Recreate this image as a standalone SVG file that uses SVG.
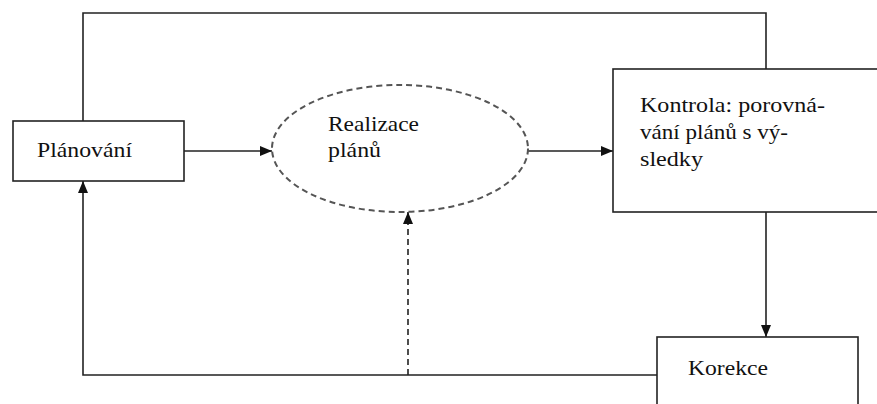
<svg xmlns="http://www.w3.org/2000/svg" width="877" height="404" viewBox="0 0 877 404">
  <style>
    .box { fill: #fff; stroke: #222; stroke-width: 1.6; }
    .line { fill: none; stroke: #222; stroke-width: 1.6; }
    .dash { fill: none; stroke: #222; stroke-width: 1.6; stroke-dasharray: 6 4; }
    .oval { fill: #fff; stroke: #555; stroke-width: 2; stroke-dasharray: 6 4; }
    text { font-family: 'Liberation Serif', 'DejaVu Serif', serif; font-size: 21.5px; fill: #111; }
  </style>
  <defs>
    <marker id="arrow" viewBox="0 0 12 10" refX="12" refY="5" markerWidth="12" markerHeight="10" markerUnits="userSpaceOnUse" orient="auto">
      <path d="M0,0 L12,5 L0,10 Z" fill="#111"/>
    </marker>
  </defs>

  <g id="connectors">
    <!-- feedback loop over the top -->
    <polyline class="line" points="83,121 83,13 766,13 766,69"/>
    <!-- planning -> realization -->
    <line class="line" x1="184" y1="151" x2="272" y2="151" marker-end="url(#arrow)"/>
    <!-- realization -> control -->
    <line class="line" x1="528" y1="151" x2="613" y2="151" marker-end="url(#arrow)"/>
    <!-- control -> correction -->
    <line class="line" x1="766" y1="212" x2="766" y2="337" marker-end="url(#arrow)"/>
    <!-- correction back to planning -->
    <polyline class="line" points="657,375 83,375 83,181" marker-end="url(#arrow)"/>
    <!-- correction -> realization (dashed) -->
    <line class="dash" x1="408" y1="375" x2="408" y2="212" marker-end="url(#arrow)"/>
  </g>

  <g id="planovani">
    <rect class="box" x="13" y="121" width="171" height="60"/>
    <text x="37" y="157" textLength="95" lengthAdjust="spacingAndGlyphs">Plánování</text>
  </g>

  <g id="realizace">
    <ellipse class="oval" cx="400" cy="148.5" rx="128" ry="63.5"/>
    <text x="328" y="131" textLength="91" lengthAdjust="spacingAndGlyphs">Realizace</text>
    <text x="328" y="157" textLength="53" lengthAdjust="spacingAndGlyphs">plánů</text>
  </g>

  <g id="kontrola">
    <rect class="box" x="613" y="69" width="266" height="143"/>
    <text x="640" y="112" textLength="185" lengthAdjust="spacingAndGlyphs">Kontrola: porovná-</text>
    <text x="640" y="139" textLength="148" lengthAdjust="spacingAndGlyphs">vání plánů s vý-</text>
    <text x="640" y="166" textLength="63" lengthAdjust="spacingAndGlyphs">sledky</text>
  </g>

  <g id="korekce">
    <rect class="box" x="657" y="337" width="201" height="70"/>
    <text x="688" y="375" textLength="80" lengthAdjust="spacingAndGlyphs">Korekce</text>
  </g>
</svg>
